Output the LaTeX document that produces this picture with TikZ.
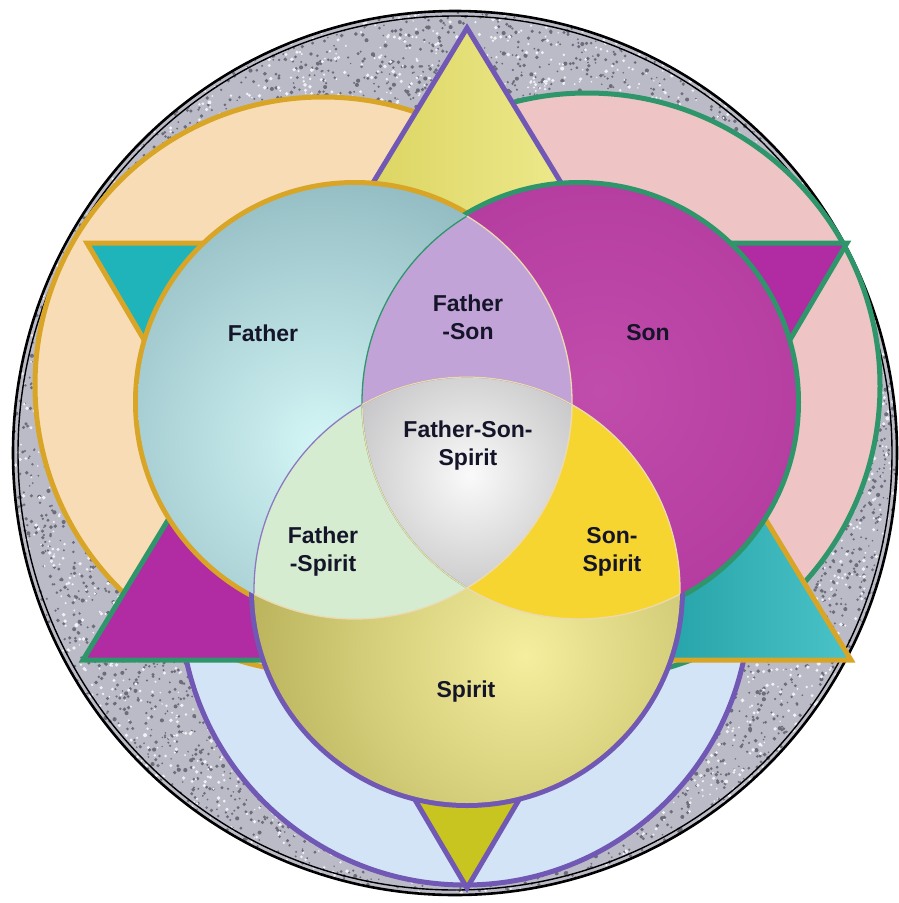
\documentclass[tikz,border=0pt]{standalone}
\usepackage{fontspec}
\setmainfont{Liberation Sans}
\definecolor{granite}{HTML}{BBBBC8}
\definecolor{graniteD}{HTML}{6C6C7A}
\definecolor{graniteL}{HTML}{F0F0F6}
\definecolor{peach}{HTML}{F7DCB6}
\definecolor{pinkring}{HTML}{EFC4C4}
\definecolor{lblue}{HTML}{D2E4F5}
\definecolor{gold}{HTML}{D8A526}
\definecolor{sgreen}{HTML}{2E966A}
\definecolor{spurple}{HTML}{7058B4}
\definecolor{topyellowA}{HTML}{D9D25C}
\definecolor{topyellowB}{HTML}{F0EC92}
\definecolor{teal}{HTML}{1EB4BA}
\definecolor{magenta}{HTML}{B12BA2}
\definecolor{bottri}{HTML}{C9C520}
\definecolor{fatherIn}{HTML}{D4F6F6}
\definecolor{fatherOut}{HTML}{5C8C98}
\definecolor{sonIn}{HTML}{C04CAB}
\definecolor{sonOut}{HTML}{A82B94}
\definecolor{spiritIn}{HTML}{F4EE9E}
\definecolor{spiritOut}{HTML}{948C30}
\definecolor{fsCol}{HTML}{C2A3D8}
\definecolor{fpCol}{HTML}{D6ECD0}
\definecolor{spCol}{HTML}{F7D530}
\definecolor{midIn}{HTML}{FAFAFA}
\definecolor{midOut}{HTML}{8E8E92}
\definecolor{thinline}{HTML}{EBD9B0}
\definecolor{txt}{HTML}{15152A}
\tikzset{
  lbl/.style={text=txt, align=center, font=\bfseries\fontsize{23}{28}\selectfont, inner sep=0pt},
  ringF/.style={fill=peach, draw=gold, line width=5pt},
  ringS/.style={fill=pinkring, draw=sgreen, line width=5pt},
  ringP/.style={fill=lblue, draw=spurple, line width=5pt},
  pointtri/.style={line width=5pt, line join=miter},
  thin/.style={line width=1.3pt}
}
\begin{document}
\begin{tikzpicture}[x=1pt,y=-1pt]
\useasboundingbox (0,0) rectangle (899,903);
\fill[white] (0,0) rectangle (899,903);

% ---------- outer disc with granite ----------
\coordinate (O) at (455,453);
\fill[granite] (O) circle[radius=442pt];
\begin{scope}
  \clip (O) circle[radius=442pt];
  \pgfmathsetseed{11}
  \foreach \i in {1,...,4000}{
    \pgfmathsetmacro\ang{360*rnd}
    \pgfmathsetmacro\rad{335+108*rnd}
    \pgfmathsetmacro\sz{0.8+1.3*rnd}
    \fill[graniteD] ({455+\rad*cos(\ang)},{453+\rad*sin(\ang)}) circle[radius=\sz pt];
  }
  \foreach \i in {1,...,2200}{
    \pgfmathsetmacro\ang{360*rnd}
    \pgfmathsetmacro\rad{335+108*rnd}
    \pgfmathsetmacro\sz{0.8+1.2*rnd}
    \fill[graniteL] ({455+\rad*cos(\ang)},{453+\rad*sin(\ang)}) circle[radius=\sz pt];
  }
\end{scope}
\draw[black, line width=2.6pt] (O) circle[radius=442pt];
\draw[black, line width=1.4pt] (O) circle[radius=437pt];

% ---------- big rings ----------
\path[ringP] (465,600) circle[radius=285pt];
\path[ringF] (323,385) circle[radius=288pt];
\path[ringS] (587,386) circle[radius=293pt];

% ---------- hexagram points ----------
\coordinate (T) at (467,28);
\coordinate (BL) at (83,660);
\coordinate (BR) at (851,660);
\coordinate (B) at (467,888);
\coordinate (TL) at (87,243);
\coordinate (TR) at (847,243);
\coordinate (i1) at (intersection of TL--TR and T--BL);
\coordinate (i2) at (intersection of TL--TR and T--BR);
\coordinate (i3) at (intersection of T--BL and TL--B);
\coordinate (i4) at (intersection of T--BR and TR--B);
\coordinate (i5) at (intersection of BL--BR and TL--B);
\coordinate (i6) at (intersection of BL--BR and TR--B);

\shade[left color=topyellowA, right color=topyellowB] (T) -- (i1) -- (i2) -- cycle;
\draw[pointtri, spurple] (T) -- (i1) -- (i2) -- cycle;
\filldraw[pointtri, fill=teal, draw=gold] (TL) -- (i1) -- (i3) -- cycle;
\filldraw[pointtri, fill=magenta, draw=sgreen] (TR) -- (i2) -- (i4) -- cycle;
\filldraw[pointtri, fill=magenta, draw=sgreen] (BL) -- (i3) -- (i5) -- cycle;
\shade[left color=teal!85!black, right color=teal!80!white] (BR) -- (i4) -- (i6) -- cycle;
\draw[pointtri, gold] (BR) -- (i4) -- (i6) -- cycle;
\filldraw[pointtri, fill=bottri, draw=spurple] (B) -- (i5) -- (i6) -- cycle;

% ---------- Venn circles ----------
\coordinate (F) at (355,402);
\coordinate (S) at (579,402);
\coordinate (P) at (467,590);
\def\rF{217pt}
\def\rP{213pt}
% thick outlines (inner halves get covered by the fills)
\draw[gold, line width=10pt] (F) circle[radius=\rF];
\draw[sgreen, line width=10pt] (S) circle[radius=\rF];
\draw[spurple, line width=10pt] (P) circle[radius=\rP];
% fills
\begin{scope}
  \clip (F) circle[radius=\rF];
  \shade[inner color=fatherIn, outer color=fatherOut] (322,445) circle[radius=500pt];
\end{scope}
\begin{scope}
  \clip (S) circle[radius=\rF];
  \shade[inner color=sonIn, outer color=sonOut] (600,390) circle[radius=480pt];
\end{scope}
\begin{scope}
  \clip (P) circle[radius=\rP];
  \shade[inner color=spiritIn, outer color=spiritOut] (525,655) circle[radius=470pt];
\end{scope}
% pairwise intersections
\begin{scope}
  \clip (F) circle[radius=\rF];
  \fill[fsCol] (S) circle[radius=\rF];
  \fill[fpCol] (P) circle[radius=\rP];
\end{scope}
\begin{scope}
  \clip (S) circle[radius=\rF];
  \fill[spCol] (P) circle[radius=\rP];
\end{scope}
% triple intersection
\begin{scope}
  \clip (F) circle[radius=\rF];
  \clip (S) circle[radius=\rF];
  \clip (P) circle[radius=\rP];
  \shade[inner color=midIn, outer color=midOut] (470,475) circle[radius=270pt];
\end{scope}
% thin inner boundaries
\begin{scope}
  \clip (F) circle[radius=\rF];
  \draw[thin, sgreen] (S) circle[radius=\rF];
  \draw[thin, spurple!80] (P) circle[radius=\rP];
\end{scope}
\begin{scope}
  \clip (S) circle[radius=\rF];
  \draw[thin, thinline] (F) circle[radius=\rF];
  \draw[thin, thinline] (P) circle[radius=\rP];
\end{scope}
\begin{scope}
  \clip (P) circle[radius=\rP];
  \draw[thin, thinline] (F) circle[radius=\rF];
  \draw[thin, thinline] (S) circle[radius=\rF];
\end{scope}

% ---------- labels ----------
\node[lbl] (father) at (263,333) {Father};
\node[lbl] (son) at (648,333) {Son};
\node[lbl] (fatherson) at (468,317) {Father\\-Son};
\node[lbl] (all) at (468,446) {Father-Son-\\Spirit};
\node[lbl] (fatherspirit) at (323,552) {Father\\-Spirit};
\node[lbl] (sonspirit) at (612,552) {Son-\\Spirit};
\node[lbl] (spirit) at (466,692) {Spirit};
\end{tikzpicture}
\end{document}
